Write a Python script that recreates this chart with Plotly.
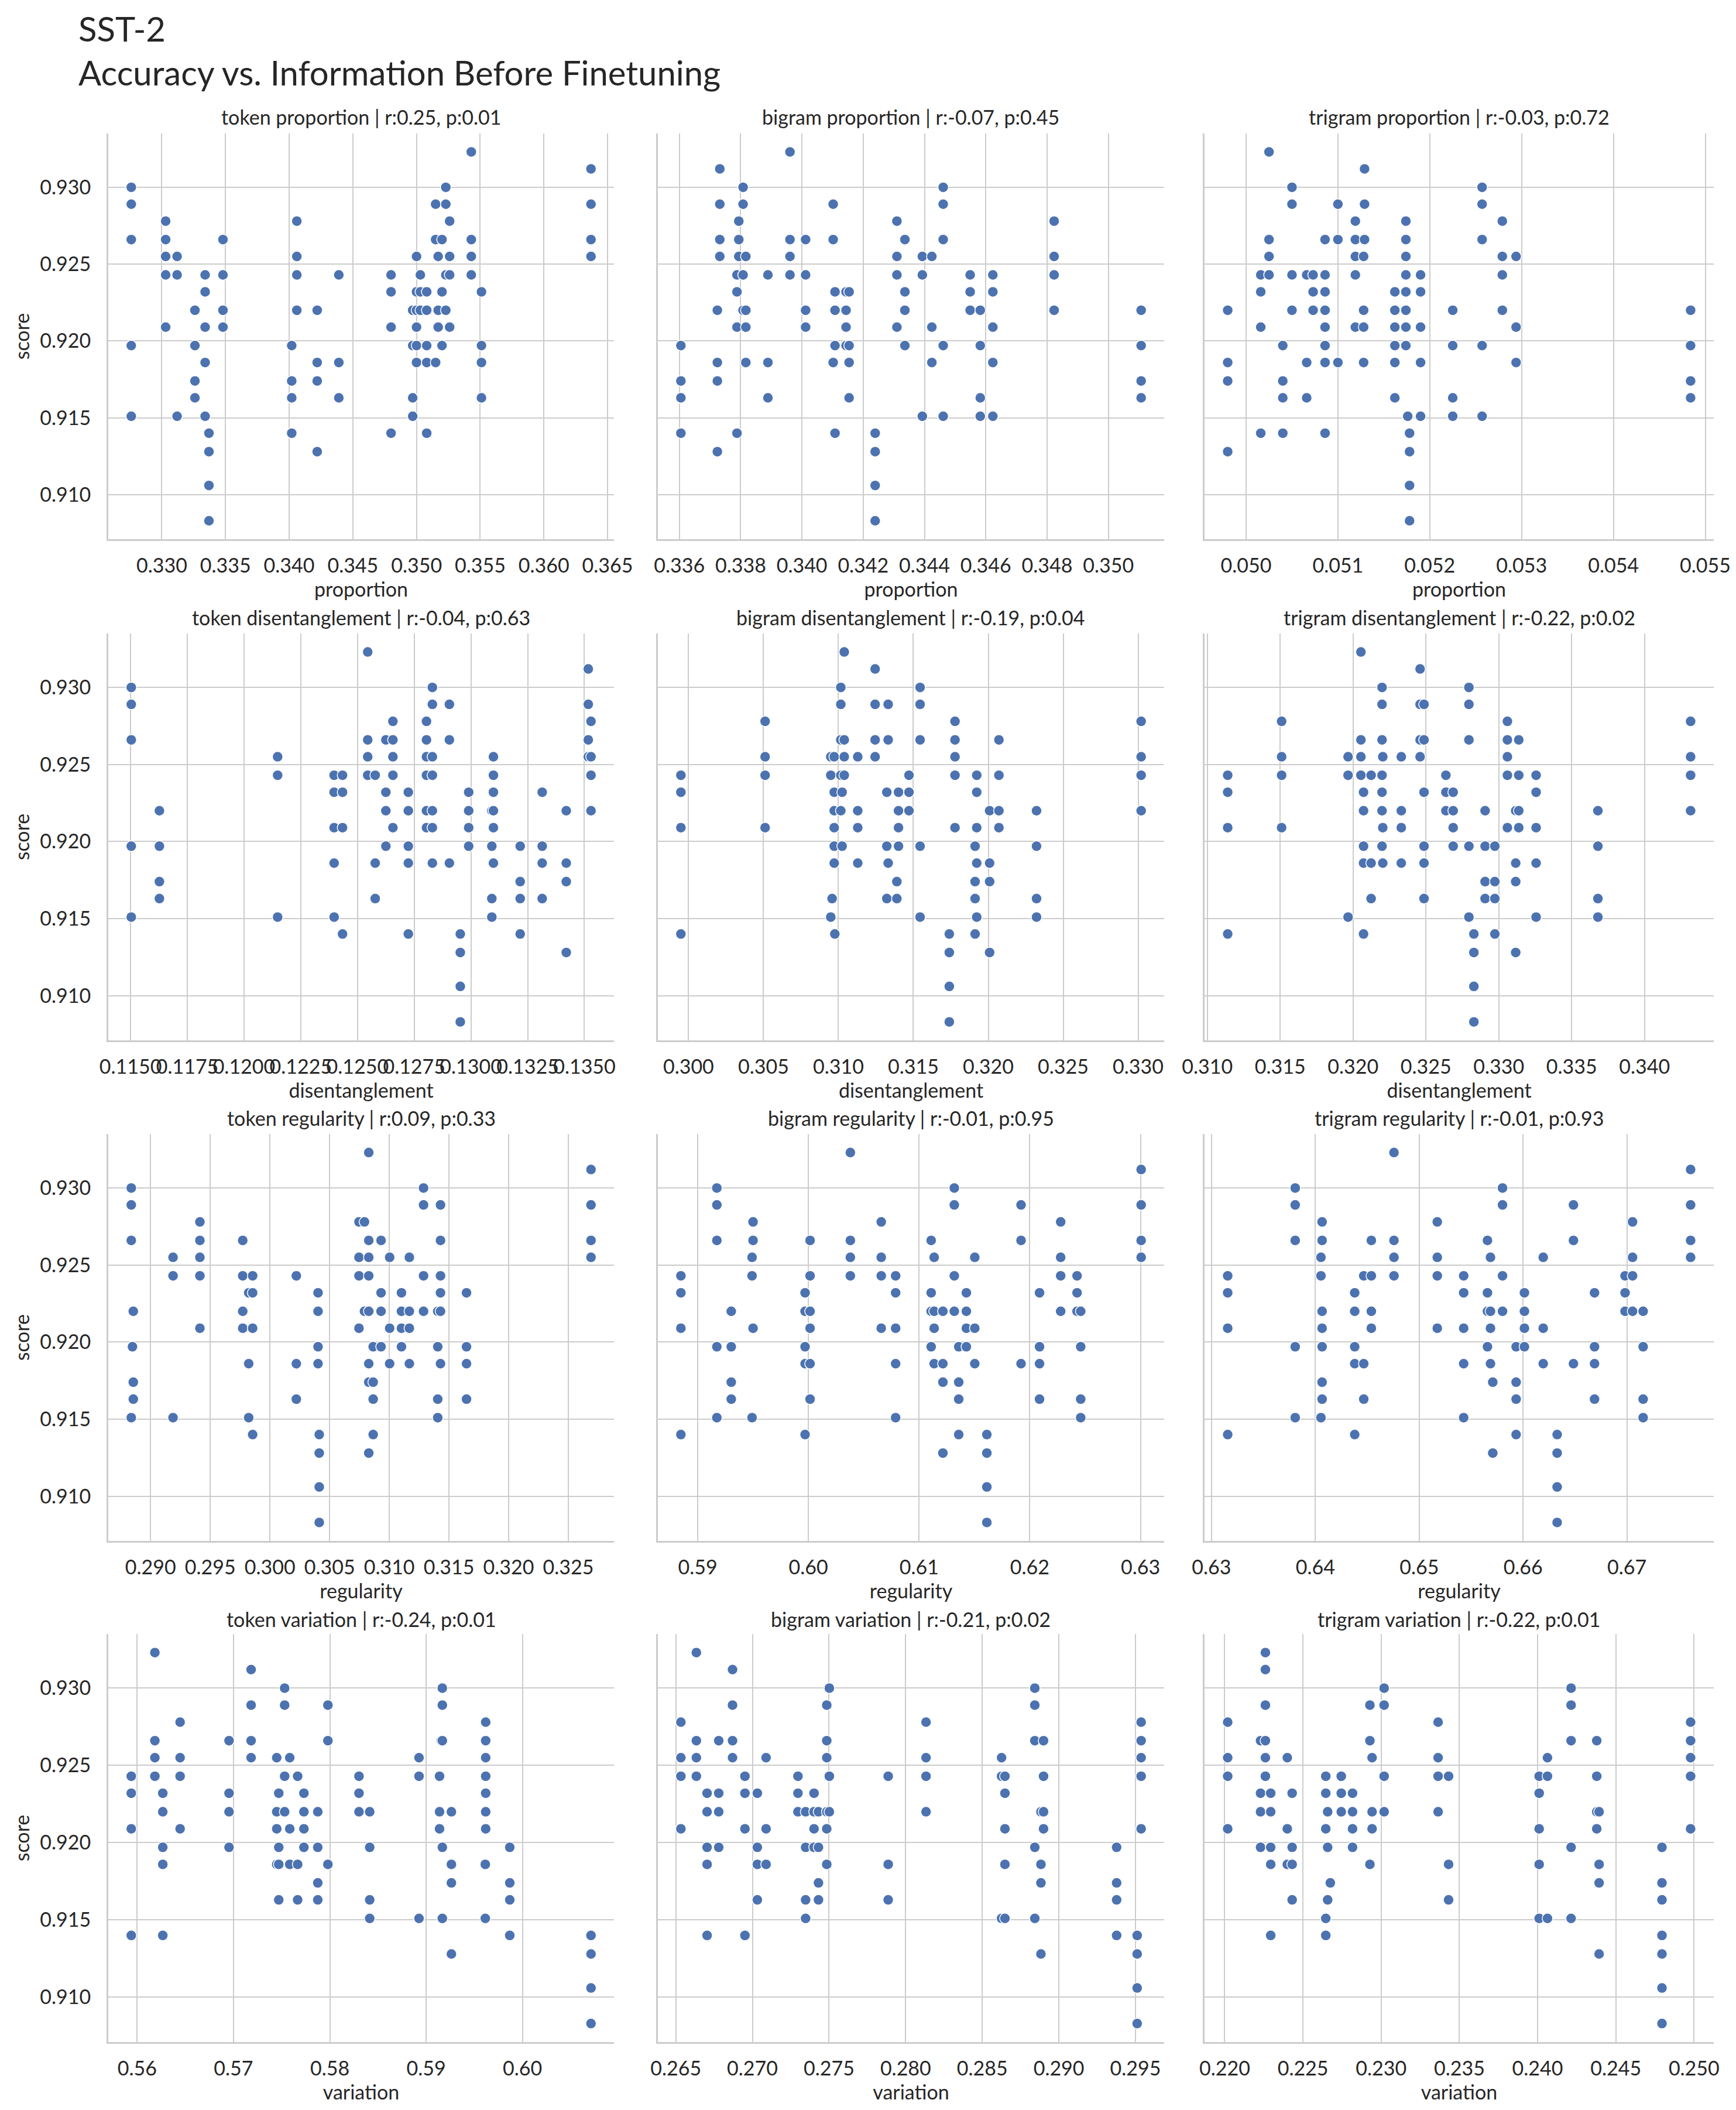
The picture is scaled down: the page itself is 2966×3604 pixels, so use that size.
import plotly.graph_objects as go

W, H = 2966, 3604

ngrams = ["token", "bigram", "trigram"]
measures = ["proportion", "disentanglement", "regularity", "variation"]
r_vals = [[0.25, -0.07, -0.03], [-0.04, -0.19, -0.22], [0.09, -0.01, -0.01], [-0.24, -0.21, -0.22]]
p_vals = [[0.01, 0.45, 0.72], [0.63, 0.04, 0.02], [0.33, 0.95, 0.93], [0.01, 0.02, 0.01]]

# each entry: (x value, [scores of runs sharing that x])
token_proportion = [
    (0.3276, [0.9300, 0.9289, 0.9266, 0.9197, 0.9151]),
    (0.3303, [0.9278, 0.9266, 0.9255, 0.9243, 0.9209]),
    (0.3312, [0.9255, 0.9243, 0.9151]),
    (0.3326, [0.9220, 0.9197, 0.9174, 0.9163]),
    (0.3334, [0.9243, 0.9232, 0.9209, 0.9186, 0.9151]),
    (0.3337, [0.9140, 0.9128, 0.9106, 0.9083]),
    (0.3348, [0.9266, 0.9243, 0.9220, 0.9209]),
    (0.3402, [0.9197, 0.9174, 0.9163, 0.9140]),
    (0.3406, [0.9278, 0.9255, 0.9243, 0.9220]),
    (0.3422, [0.9220, 0.9186, 0.9174, 0.9128]),
    (0.3439, [0.9243, 0.9186, 0.9163]),
    (0.3480, [0.9243, 0.9232, 0.9209, 0.9140]),
    (0.3497, [0.9220, 0.9197, 0.9163, 0.9151]),
    (0.3500, [0.9255, 0.9232, 0.9220, 0.9209, 0.9197, 0.9186]),
    (0.3503, [0.9243, 0.9232, 0.9220]),
    (0.3508, [0.9232, 0.9220, 0.9197, 0.9186, 0.9140]),
    (0.3515, [0.9289, 0.9266, 0.9186]),
    (0.3517, [0.9255, 0.9220, 0.9209]),
    (0.3520, [0.9266, 0.9232, 0.9197]),
    (0.3523, [0.9300, 0.9289, 0.9243, 0.9220]),
    (0.3526, [0.9278, 0.9255, 0.9243, 0.9209]),
    (0.3543, [0.9323, 0.9266, 0.9255, 0.9243]),
    (0.3551, [0.9232, 0.9197, 0.9186, 0.9163]),
    (0.3637, [0.9312, 0.9289, 0.9266, 0.9255]),
]

bigram_proportion = [
    (0.33605, [0.9197, 0.9174, 0.9163, 0.9140]),
    (0.33724, [0.9220, 0.9186, 0.9174, 0.9128]),
    (0.33732, [0.9312, 0.9289, 0.9266, 0.9255]),
    (0.33788, [0.9243, 0.9232, 0.9209, 0.9140]),
    (0.33794, [0.9278, 0.9266, 0.9255]),
    (0.33808, [0.9300, 0.9289, 0.9243, 0.9220]),
    (0.33817, [0.9255, 0.9209, 0.9186, 0.9220]),
    (0.33889, [0.9243, 0.9186, 0.9163]),
    (0.33961, [0.9323, 0.9266, 0.9255, 0.9243]),
    (0.34012, [0.9266, 0.9243, 0.9220, 0.9209]),
    (0.34102, [0.9289, 0.9266, 0.9186]),
    (0.34108, [0.9232, 0.9220, 0.9197, 0.9140]),
    (0.34144, [0.9232, 0.9220, 0.9209, 0.9197]),
    (0.34154, [0.9232, 0.9197, 0.9186, 0.9163]),
    (0.34239, [0.9140, 0.9128, 0.9106, 0.9083]),
    (0.34310, [0.9278, 0.9255, 0.9243, 0.9209]),
    (0.34336, [0.9266, 0.9232, 0.9220, 0.9197]),
    (0.34393, [0.9255, 0.9243, 0.9151]),
    (0.34424, [0.9255, 0.9209, 0.9186]),
    (0.34461, [0.9300, 0.9289, 0.9266, 0.9197, 0.9151]),
    (0.34549, [0.9243, 0.9232, 0.9220]),
    (0.34582, [0.9220, 0.9197, 0.9163, 0.9151]),
    (0.34623, [0.9243, 0.9232, 0.9209, 0.9186, 0.9151]),
    (0.34823, [0.9278, 0.9255, 0.9243, 0.9220]),
    (0.35107, [0.9220, 0.9197, 0.9174, 0.9163]),
]

trigram_proportion = [
    (0.04980, [0.9220, 0.9186, 0.9174, 0.9128]),
    (0.05016, [0.9243, 0.9232, 0.9209, 0.9140]),
    (0.05025, [0.9323, 0.9266, 0.9255, 0.9243]),
    (0.05040, [0.9197, 0.9174, 0.9163, 0.9140]),
    (0.05050, [0.9300, 0.9289, 0.9243, 0.9220]),
    (0.05066, [0.9243, 0.9186, 0.9163]),
    (0.05073, [0.9243, 0.9232, 0.9220]),
    (0.05086, [0.9266, 0.9243, 0.9232, 0.9220, 0.9209, 0.9197, 0.9186, 0.9140]),
    (0.05100, [0.9289, 0.9266, 0.9186]),
    (0.05119, [0.9278, 0.9266, 0.9255, 0.9243, 0.9209]),
    (0.05128, [0.9255, 0.9220, 0.9209, 0.9186]),
    (0.05129, [0.9312, 0.9289, 0.9266]),
    (0.05162, [0.9232, 0.9220, 0.9209, 0.9197, 0.9186, 0.9163]),
    (0.05174, [0.9278, 0.9266, 0.9255, 0.9243, 0.9232, 0.9220, 0.9209, 0.9197]),
    (0.05176, [0.9151]),
    (0.05178, [0.9140, 0.9128, 0.9106, 0.9083]),
    (0.05190, [0.9243, 0.9232, 0.9209, 0.9186, 0.9151]),
    (0.05225, [0.9220, 0.9197, 0.9163, 0.9151]),
    (0.05257, [0.9300, 0.9289, 0.9266, 0.9197, 0.9151]),
    (0.05279, [0.9278, 0.9255, 0.9243, 0.9220]),
    (0.05294, [0.9255, 0.9209, 0.9186]),
    (0.05484, [0.9220, 0.9197, 0.9174, 0.9163]),
]

token_disentanglement = [
    (0.11503, [0.9300, 0.9289, 0.9266, 0.9197, 0.9151]),
    (0.11627, [0.9220, 0.9197, 0.9174, 0.9163]),
    (0.12148, [0.9255, 0.9243, 0.9151]),
    (0.12397, [0.9243, 0.9232, 0.9209, 0.9186, 0.9151]),
    (0.12434, [0.9243, 0.9232, 0.9209, 0.9140]),
    (0.12545, [0.9323, 0.9266, 0.9255, 0.9243]),
    (0.12578, [0.9243, 0.9186, 0.9163]),
    (0.12625, [0.9266, 0.9232, 0.9220, 0.9197]),
    (0.12656, [0.9278, 0.9266, 0.9255, 0.9243, 0.9209]),
    (0.12724, [0.9232, 0.9220, 0.9197, 0.9186, 0.9140]),
    (0.12804, [0.9278, 0.9266, 0.9255, 0.9243, 0.9220, 0.9209]),
    (0.12830, [0.9300, 0.9289, 0.9255, 0.9243, 0.9220, 0.9209, 0.9186]),
    (0.12905, [0.9289, 0.9266, 0.9186]),
    (0.12953, [0.9140, 0.9128, 0.9106, 0.9083]),
    (0.12990, [0.9232, 0.9220, 0.9209, 0.9197]),
    (0.13092, [0.9197, 0.9163, 0.9151, 0.9220]),
    (0.13099, [0.9255, 0.9243, 0.9232, 0.9220, 0.9209, 0.9186]),
    (0.13217, [0.9197, 0.9174, 0.9163, 0.9140]),
    (0.13314, [0.9232, 0.9197, 0.9186, 0.9163]),
    (0.13420, [0.9220, 0.9186, 0.9174, 0.9128]),
    (0.13517, [0.9312, 0.9289, 0.9266, 0.9255]),
    (0.13529, [0.9278, 0.9255, 0.9243, 0.9220]),
]

bigram_disentanglement = [
    (0.29949, [0.9243, 0.9232, 0.9209, 0.9140]),
    (0.30511, [0.9278, 0.9255, 0.9243, 0.9209]),
    (0.30949, [0.9255, 0.9243, 0.9151]),
    (0.30958, [0.9163]),
    (0.30972, [0.9255, 0.9232, 0.9220, 0.9209, 0.9197, 0.9186]),
    (0.30976, [0.9140]),
    (0.31016, [0.9300, 0.9289, 0.9266, 0.9243, 0.9220]),
    (0.31025, [0.9232, 0.9197]),
    (0.31039, [0.9323, 0.9266, 0.9255, 0.9243]),
    (0.31129, [0.9255, 0.9220, 0.9209, 0.9186]),
    (0.31245, [0.9312, 0.9289, 0.9266, 0.9255]),
    (0.31323, [0.9232, 0.9197, 0.9163]),
    (0.31332, [0.9289, 0.9266, 0.9186]),
    (0.31390, [0.9174, 0.9163]),
    (0.31401, [0.9232, 0.9220, 0.9209, 0.9197]),
    (0.31471, [0.9243, 0.9232, 0.9220]),
    (0.31545, [0.9300, 0.9289, 0.9266, 0.9197, 0.9151]),
    (0.31740, [0.9140, 0.9128, 0.9106, 0.9083]),
    (0.31778, [0.9278, 0.9266, 0.9255, 0.9243, 0.9209]),
    (0.31912, [0.9197, 0.9174, 0.9163, 0.9140]),
    (0.31923, [0.9243, 0.9232, 0.9209, 0.9186, 0.9151]),
    (0.32009, [0.9220, 0.9186, 0.9174, 0.9128]),
    (0.32071, [0.9266, 0.9243, 0.9220, 0.9209]),
    (0.32322, [0.9220, 0.9197, 0.9163, 0.9151]),
    (0.33020, [0.9278, 0.9255, 0.9243, 0.9220]),
]

trigram_disentanglement = [
    (0.31140, [0.9243, 0.9232, 0.9209, 0.9140]),
    (0.31510, [0.9278, 0.9255, 0.9243, 0.9209]),
    (0.31966, [0.9255, 0.9243, 0.9151]),
    (0.32054, [0.9323, 0.9266, 0.9255, 0.9243]),
    (0.32072, [0.9232, 0.9220, 0.9197, 0.9186, 0.9140]),
    (0.32124, [0.9243, 0.9186, 0.9163]),
    (0.32199, [0.9300, 0.9289, 0.9266, 0.9243, 0.9232, 0.9220, 0.9197]),
    (0.32204, [0.9255, 0.9209, 0.9186]),
    (0.32331, [0.9255, 0.9220, 0.9209, 0.9186]),
    (0.32460, [0.9312, 0.9255, 0.9289, 0.9266]),
    (0.32487, [0.9289, 0.9266, 0.9232, 0.9197, 0.9186, 0.9163]),
    (0.32637, [0.9243, 0.9232, 0.9220]),
    (0.32687, [0.9232, 0.9220, 0.9209, 0.9197]),
    (0.32795, [0.9300, 0.9289, 0.9266, 0.9197, 0.9151]),
    (0.32829, [0.9140, 0.9128, 0.9106, 0.9083]),
    (0.32906, [0.9220, 0.9197, 0.9174, 0.9163]),
    (0.32973, [0.9197, 0.9174, 0.9163, 0.9140]),
    (0.33059, [0.9278, 0.9266, 0.9255, 0.9243, 0.9209]),
    (0.33116, [0.9220, 0.9186, 0.9174, 0.9128]),
    (0.33137, [0.9266, 0.9243, 0.9220, 0.9209]),
    (0.33256, [0.9243, 0.9232, 0.9209, 0.9186, 0.9151]),
    (0.33680, [0.9220, 0.9197, 0.9163, 0.9151]),
    (0.34316, [0.9278, 0.9255, 0.9243, 0.9220]),
]

token_regularity = [
    (0.28838, [0.9300, 0.9289, 0.9266, 0.9151]),
    (0.28848, [0.9197, 0.9197]),
    (0.28855, [0.9220, 0.9174, 0.9163]),
    (0.29188, [0.9255, 0.9243, 0.9151]),
    (0.29413, [0.9278, 0.9266, 0.9255, 0.9243, 0.9209]),
    (0.29772, [0.9266, 0.9243, 0.9220, 0.9209]),
    (0.29822, [0.9232, 0.9186, 0.9151]),
    (0.29855, [0.9243, 0.9232, 0.9209, 0.9140]),
    (0.30221, [0.9243, 0.9186, 0.9163]),
    (0.30403, [0.9232, 0.9220, 0.9197, 0.9186]),
    (0.30413, [0.9140, 0.9128, 0.9106, 0.9083]),
    (0.30746, [0.9278, 0.9255, 0.9243, 0.9209]),
    (0.30792, [0.9278, 0.9220]),
    (0.30828, [0.9323, 0.9266, 0.9255, 0.9243, 0.9186, 0.9174, 0.9128, 0.9220]),
    (0.30865, [0.9197, 0.9174, 0.9163, 0.9140]),
    (0.30931, [0.9266, 0.9232, 0.9220, 0.9197]),
    (0.31003, [0.9255, 0.9209, 0.9186]),
    (0.31102, [0.9232, 0.9220, 0.9209, 0.9197]),
    (0.31168, [0.9255, 0.9220, 0.9209, 0.9186]),
    (0.31287, [0.9300, 0.9289, 0.9243, 0.9220]),
    (0.31406, [0.9220, 0.9197, 0.9163, 0.9151]),
    (0.31429, [0.9289, 0.9266, 0.9243, 0.9232, 0.9220, 0.9186]),
    (0.31647, [0.9232, 0.9197, 0.9186, 0.9163]),
    (0.32690, [0.9312, 0.9289, 0.9266, 0.9255]),
]

bigram_regularity = [
    (0.58848, [0.9243, 0.9232, 0.9209, 0.9140]),
    (0.59173, [0.9300, 0.9289, 0.9266, 0.9197, 0.9151]),
    (0.59303, [0.9220, 0.9197, 0.9174, 0.9163]),
    (0.59491, [0.9255, 0.9243, 0.9151]),
    (0.59500, [0.9278, 0.9266, 0.9209]),
    (0.59970, [0.9232, 0.9220, 0.9197, 0.9186, 0.9140]),
    (0.60015, [0.9266, 0.9243, 0.9220, 0.9209, 0.9186, 0.9163]),
    (0.60379, [0.9323, 0.9266, 0.9255, 0.9243]),
    (0.60658, [0.9278, 0.9255, 0.9243, 0.9209]),
    (0.60788, [0.9243, 0.9232, 0.9209, 0.9186, 0.9151]),
    (0.61109, [0.9266, 0.9232, 0.9220, 0.9197]),
    (0.61136, [0.9255, 0.9220, 0.9209, 0.9186]),
    (0.61215, [0.9220, 0.9186, 0.9174, 0.9128]),
    (0.61318, [0.9300, 0.9289, 0.9243, 0.9220]),
    (0.61358, [0.9197, 0.9174, 0.9163, 0.9140]),
    (0.61427, [0.9232, 0.9220, 0.9209, 0.9197]),
    (0.61503, [0.9255, 0.9209, 0.9186]),
    (0.61612, [0.9140, 0.9128, 0.9106, 0.9083]),
    (0.61921, [0.9289, 0.9266, 0.9186]),
    (0.62088, [0.9232, 0.9197, 0.9186, 0.9163]),
    (0.62279, [0.9278, 0.9255, 0.9243, 0.9220]),
    (0.62427, [0.9243, 0.9232, 0.9220]),
    (0.62460, [0.9220, 0.9197, 0.9163, 0.9151]),
    (0.63006, [0.9312, 0.9289, 0.9266, 0.9255]),
]

trigram_regularity = [
    (0.63156, [0.9243, 0.9232, 0.9209, 0.9140]),
    (0.63806, [0.9300, 0.9289, 0.9266, 0.9197, 0.9151]),
    (0.64054, [0.9255, 0.9243, 0.9151]),
    (0.64065, [0.9278, 0.9266, 0.9220, 0.9209, 0.9197, 0.9174, 0.9163]),
    (0.64379, [0.9232, 0.9220, 0.9197, 0.9186, 0.9140]),
    (0.64466, [0.9243, 0.9186, 0.9163]),
    (0.64539, [0.9266, 0.9243, 0.9220, 0.9209]),
    (0.64757, [0.9323, 0.9266, 0.9255, 0.9243]),
    (0.65174, [0.9278, 0.9255, 0.9243, 0.9209]),
    (0.65428, [0.9243, 0.9232, 0.9209, 0.9186, 0.9151]),
    (0.65657, [0.9266, 0.9232, 0.9220, 0.9197]),
    (0.65686, [0.9255, 0.9220, 0.9209, 0.9186]),
    (0.65708, [0.9174, 0.9128]),
    (0.65802, [0.9300, 0.9289, 0.9243, 0.9220]),
    (0.65933, [0.9197, 0.9174, 0.9163, 0.9140]),
    (0.66013, [0.9232, 0.9220, 0.9209, 0.9197]),
    (0.66194, [0.9255, 0.9209, 0.9186]),
    (0.66328, [0.9140, 0.9128, 0.9106, 0.9083]),
    (0.66485, [0.9289, 0.9266, 0.9186]),
    (0.66688, [0.9232, 0.9197, 0.9186, 0.9163]),
    (0.66982, [0.9243, 0.9232, 0.9220]),
    (0.67054, [0.9278, 0.9255, 0.9243, 0.9220]),
    (0.67156, [0.9220, 0.9197, 0.9163, 0.9151]),
    (0.67613, [0.9312, 0.9289, 0.9266, 0.9255]),
]

token_variation = [
    (0.55939, [0.9243, 0.9232, 0.9209, 0.9140]),
    (0.56184, [0.9323, 0.9266, 0.9255, 0.9243]),
    (0.56266, [0.9232, 0.9220, 0.9197, 0.9186, 0.9140]),
    (0.56446, [0.9278, 0.9255, 0.9243, 0.9209]),
    (0.56954, [0.9266, 0.9232, 0.9220, 0.9197]),
    (0.57183, [0.9312, 0.9289, 0.9266, 0.9255]),
    (0.57449, [0.9255, 0.9220, 0.9209, 0.9186]),
    (0.57470, [0.9232, 0.9197, 0.9186, 0.9163]),
    (0.57531, [0.9300, 0.9289, 0.9243, 0.9220]),
    (0.57584, [0.9255, 0.9209, 0.9186]),
    (0.57666, [0.9243, 0.9186, 0.9163]),
    (0.57731, [0.9232, 0.9220, 0.9209, 0.9197]),
    (0.57875, [0.9220, 0.9197, 0.9174, 0.9163]),
    (0.57980, [0.9289, 0.9266, 0.9186]),
    (0.58303, [0.9243, 0.9232, 0.9220]),
    (0.58414, [0.9220, 0.9197, 0.9163, 0.9151]),
    (0.58926, [0.9255, 0.9243, 0.9151]),
    (0.59139, [0.9243, 0.9220, 0.9209]),
    (0.59156, [0.9266]),
    (0.59168, [0.9300, 0.9289, 0.9266, 0.9197, 0.9151]),
    (0.59262, [0.9220, 0.9186, 0.9174, 0.9128]),
    (0.59614, [0.9186, 0.9151]),
    (0.59618, [0.9278, 0.9266, 0.9255, 0.9243, 0.9232, 0.9220, 0.9209]),
    (0.59868, [0.9197, 0.9174, 0.9163, 0.9140]),
    (0.60711, [0.9140, 0.9128, 0.9106, 0.9083]),
]

bigram_variation = [
    (0.26533, [0.9278, 0.9255, 0.9243, 0.9209]),
    (0.26634, [0.9323, 0.9266, 0.9255, 0.9243]),
    (0.26704, [0.9232, 0.9220, 0.9197, 0.9186, 0.9140]),
    (0.26780, [0.9266, 0.9232, 0.9220, 0.9197]),
    (0.26870, [0.9312, 0.9289, 0.9266, 0.9255]),
    (0.26951, [0.9243, 0.9232, 0.9209, 0.9140]),
    (0.27032, [0.9232, 0.9197, 0.9186, 0.9163]),
    (0.27089, [0.9255, 0.9209, 0.9186]),
    (0.27297, [0.9243, 0.9232, 0.9220]),
    (0.27347, [0.9220, 0.9197, 0.9163, 0.9151]),
    (0.27402, [0.9232, 0.9220, 0.9209, 0.9197]),
    (0.27431, [0.9220, 0.9197, 0.9174, 0.9163]),
    (0.27485, [0.9289, 0.9266, 0.9255, 0.9220, 0.9209, 0.9186]),
    (0.27502, [0.9300, 0.9243, 0.9220]),
    (0.27886, [0.9243, 0.9186, 0.9163]),
    (0.28133, [0.9278, 0.9255, 0.9243, 0.9220]),
    (0.28626, [0.9255, 0.9243, 0.9151]),
    (0.28648, [0.9243, 0.9232, 0.9209, 0.9186, 0.9151]),
    (0.28843, [0.9300, 0.9289, 0.9266, 0.9197, 0.9151]),
    (0.28883, [0.9220, 0.9186, 0.9174, 0.9128]),
    (0.28900, [0.9266, 0.9243, 0.9220, 0.9209]),
    (0.29377, [0.9197, 0.9174, 0.9163, 0.9140]),
    (0.29511, [0.9140, 0.9128, 0.9106, 0.9083]),
    (0.29537, [0.9278, 0.9266, 0.9255, 0.9243, 0.9209]),
]

trigram_variation = [
    (0.22019, [0.9278, 0.9255, 0.9243, 0.9209]),
    (0.22229, [0.9266, 0.9232, 0.9220, 0.9197]),
    (0.22260, [0.9323, 0.9312, 0.9289, 0.9266, 0.9255, 0.9243]),
    (0.22294, [0.9232, 0.9220, 0.9197, 0.9186, 0.9140]),
    (0.22400, [0.9255, 0.9209, 0.9186]),
    (0.22431, [0.9232, 0.9197, 0.9186, 0.9163]),
    (0.22646, [0.9243, 0.9232, 0.9209, 0.9151, 0.9140]),
    (0.22658, [0.9220, 0.9197, 0.9163]),
    (0.22675, [0.9174]),
    (0.22745, [0.9243, 0.9232, 0.9220]),
    (0.22817, [0.9232, 0.9220, 0.9209, 0.9197]),
    (0.22928, [0.9289, 0.9266, 0.9186]),
    (0.22942, [0.9255, 0.9220, 0.9209]),
    (0.23019, [0.9300, 0.9289, 0.9243, 0.9220]),
    (0.23364, [0.9278, 0.9255, 0.9243, 0.9220]),
    (0.23431, [0.9243, 0.9186, 0.9163]),
    (0.24010, [0.9243, 0.9232, 0.9209, 0.9186, 0.9151]),
    (0.24063, [0.9255, 0.9243, 0.9151]),
    (0.24214, [0.9300, 0.9289, 0.9266, 0.9197, 0.9151]),
    (0.24378, [0.9266, 0.9243, 0.9220, 0.9209]),
    (0.24393, [0.9220, 0.9186, 0.9174, 0.9128]),
    (0.24795, [0.9197, 0.9174, 0.9163, 0.9140, 0.9128, 0.9106, 0.9083]),
    (0.24978, [0.9278, 0.9266, 0.9255, 0.9243, 0.9209]),
]

panels = [
    [token_proportion, bigram_proportion, trigram_proportion],
    [token_disentanglement, bigram_disentanglement, trigram_disentanglement],
    [token_regularity, bigram_regularity, trigram_regularity],
    [token_variation, bigram_variation, trigram_variation],
]

# tick spacing / label format for each panel's x axis
x_dticks = [[0.005, 0.002, 0.001], [0.0025, 0.005, 0.005], [0.005, 0.01, 0.01], [0.01, 0.005, 0.005]]
x_formats = [[".3f", ".3f", ".3f"], [".4f", ".3f", ".3f"], [".3f", ".2f", ".2f"], [".2f", ".3f", ".3f"]]

FONT = "Futura, 'Century Gothic', Lato, sans-serif"
TEXT = "#262626"
GRID = "#cccccc"
BLUE = "#4c72b0"

col_px = [(177, 1041), (1116, 1981), (2050, 2920)]
row_px = [(220, 913), (1074, 1769), (1929, 2624), (2783, 3480)]
title_px = [192, 1046, 1901, 2757]


def expand(groups):
    xs, ys = [], []
    for x, scores in groups:
        for s in scores:
            xs.append(x)
            ys.append(s)
    return xs, ys


def padded(vals):
    lo, hi = min(vals), max(vals)
    pad = (hi - lo) * 0.05
    return [lo - pad, hi + pad]


all_scores = [s for row in panels for g in row for _, sc in g for s in sc]
y_range = padded(all_scores)

fig = go.Figure()
layout = {}
annotations = []

for r in range(4):
    for c in range(3):
        i = r * 3 + c + 1
        xs, ys = expand(panels[r][c])
        fig.add_trace(
            go.Scatter(
                x=xs,
                y=ys,
                mode="markers",
                marker=dict(color=BLUE, size=18, line=dict(color="white", width=1.5)),
                xaxis=f"x{i}",
                yaxis=f"y{i}",
                showlegend=False,
            )
        )
        x0, x1 = col_px[c]
        y0, y1 = row_px[r]
        layout[f"xaxis{i}"] = dict(
            domain=[x0 / W, x1 / W],
            anchor=f"y{i}",
            range=padded(xs),
            tick0=0,
            dtick=x_dticks[r][c],
            tickformat=x_formats[r][c],
            tickangle=0,
            automargin=False,
            showgrid=True,
            gridcolor=GRID,
            gridwidth=2,
            showline=True,
            linecolor=GRID,
            linewidth=3,
            zeroline=False,
            ticks="outside",
            ticklen=13,
            tickcolor="rgba(0,0,0,0)",
            tickfont=dict(family=FONT, size=34, color=TEXT),
            title=dict(text=measures[r], font=dict(family=FONT, size=34, color=TEXT), standoff=4),
        )
        layout[f"yaxis{i}"] = dict(
            domain=[1 - y1 / H, 1 - y0 / H],
            anchor=f"x{i}",
            range=y_range,
            tick0=0,
            dtick=0.005,
            tickformat=".3f",
            automargin=False,
            showgrid=True,
            gridcolor=GRID,
            gridwidth=2,
            showline=True,
            linecolor=GRID,
            linewidth=3,
            zeroline=False,
            ticks="outside",
            ticklen=20,
            tickcolor="rgba(0,0,0,0)",
            showticklabels=(c == 0),
            tickfont=dict(family=FONT, size=34, color=TEXT),
            title=dict(text="score" if c == 0 else "", font=dict(family=FONT, size=34, color=TEXT), standoff=8),
        )
        annotations.append(
            dict(
                text=f"{ngrams[c]} {measures[r]} | r:{r_vals[r][c]:.2f}, p:{p_vals[r][c]:.2f}",
                x=(x0 + x1) / 2 / W,
                y=1 - title_px[r] / H,
                xref="paper",
                yref="paper",
                xanchor="center",
                yanchor="middle",
                showarrow=False,
                font=dict(family=FONT, size=34, color=TEXT),
            )
        )

annotations.append(
    dict(
        text="SST-2<br>Accuracy vs. Information Before Finetuning",
        x=124 / W,
        y=1 - 4 / H,
        xref="paper",
        yref="paper",
        xanchor="left",
        yanchor="top",
        align="left",
        showarrow=False,
        font=dict(family=FONT, size=58, color=TEXT),
    )
)

fig.update_layout(
    width=W,
    height=H,
    margin=dict(l=0, r=0, t=0, b=0),
    plot_bgcolor="white",
    paper_bgcolor="white",
    annotations=annotations,
    **layout,
)

fig.write_html("out.html")
